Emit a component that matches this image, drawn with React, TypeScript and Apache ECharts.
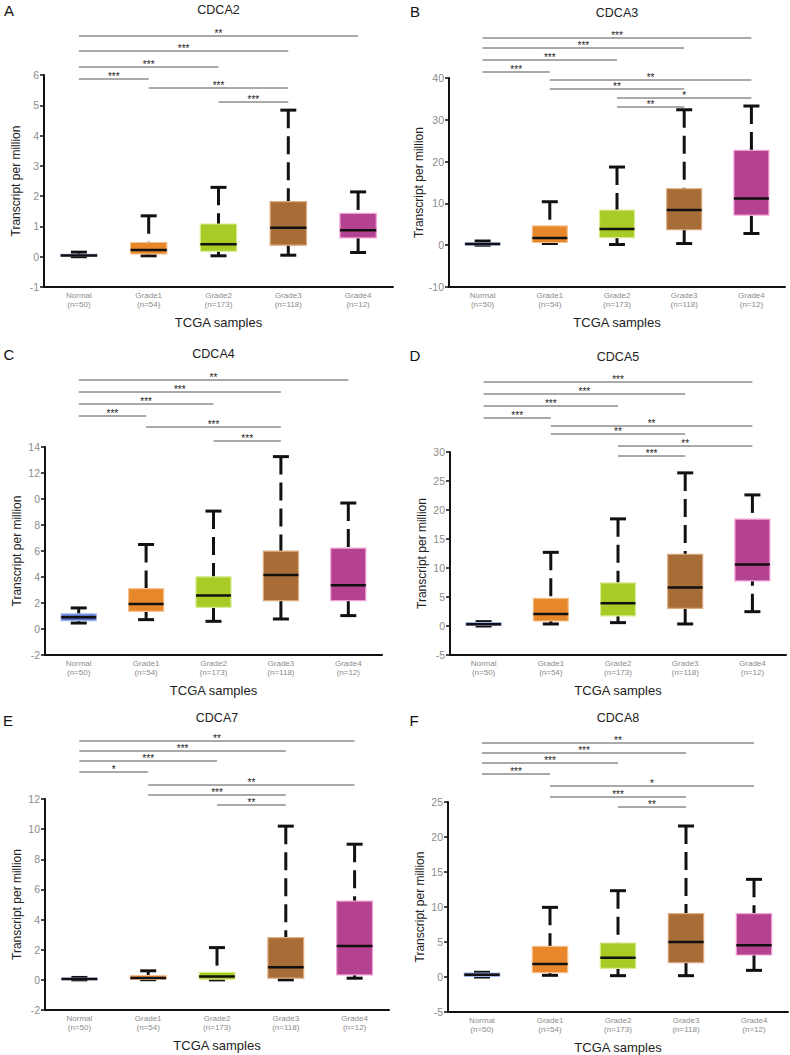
import React, { useEffect, useRef } from "react";
import * as echarts from "echarts";

const categories = ["Normal", "Grade1", "Grade2", "Grade3", "Grade4"];
const sampleCounts = [50, 54, 173, 118, 12];

const boxColors = ["#5272C9", "#E8862A", "#A8CB25", "#A86C36", "#B54191"];
const boxBorders = ["#A3B5EA", "#F6C18E", "#D8EC92", "#DBAA7E", "#F0A2D5"];

// each box: [min, q1, median, q3, max]
const cdca2Boxes = [
  [0.0, 0.02, 0.04, 0.08, 0.15],
  [0.03, 0.09, 0.22, 0.47, 1.35],
  [0.03, 0.18, 0.41, 1.08, 2.29],
  [0.05, 0.38, 0.96, 1.82, 4.84],
  [0.14, 0.62, 0.87, 1.43, 2.14],
];
const cdca3Boxes = [
  [0.0, 0.1, 0.3, 0.55, 1.0],
  [0.4, 0.64, 1.75, 4.6, 10.4],
  [0.16, 1.8, 3.9, 8.4, 18.7],
  [0.4, 3.7, 8.45, 13.5, 32.4],
  [2.8, 7.2, 11.2, 22.7, 33.3],
];
const cdca4Boxes = [
  [0.46, 0.64, 0.9, 1.16, 1.62],
  [0.72, 1.36, 1.93, 3.11, 6.5],
  [0.59, 1.67, 2.57, 4.01, 9.07],
  [0.77, 2.19, 4.16, 5.99, 13.26],
  [1.03, 2.19, 3.37, 6.22, 9.69],
];
const cdca5Boxes = [
  [0.0, 0.1, 0.3, 0.6, 0.75],
  [0.35, 0.86, 2.07, 4.78, 12.7],
  [0.58, 1.73, 3.91, 7.42, 18.47],
  [0.35, 3.05, 6.62, 12.37, 26.4],
  [2.47, 7.77, 10.59, 18.41, 22.6],
];
const cdca7Boxes = [
  [0.0, 0.02, 0.06, 0.12, 0.16],
  [0.01, 0.03, 0.12, 0.28, 0.6],
  [0.0, 0.04, 0.22, 0.49, 2.14],
  [0.0, 0.11, 0.84, 2.8, 10.2],
  [0.11, 0.33, 2.25, 5.23, 9.0],
];
const cdca8Boxes = [
  [0.0, 0.1, 0.33, 0.57, 0.67],
  [0.24, 0.62, 1.86, 4.38, 9.95],
  [0.19, 1.24, 2.76, 4.86, 12.33],
  [0.19, 2.05, 5.0, 9.05, 21.57],
  [0.95, 3.14, 4.52, 9.05, 13.95],
];

// y tick labels as printed
const cdca2Ticks = ["-1", "0", "1", "2", "3", "4", "5", "6"];
const cdca3Ticks = ["-10", "0", "10", "20", "30", "40"];
const cdca4Ticks = ["-2", "0", "2", "4", "6", "8", "0", "12", "14"];
const cdca5Ticks = ["-5", "0", "5", "10", "15", "20", "25", "30"];
const cdca7Ticks = ["-2", "0", "2", "4", "6", "8", "10", "12"];
const cdca8Ticks = ["-5", "0", "5", "10", "15", "20", "25"];

// significance comparisons: [fromIndex, toIndex, label]
const cdca2Sig = [[0, 4, "**"], [0, 3, "***"], [0, 2, "***"], [0, 1, "***"], [1, 3, "***"], [2, 3, "***"]];
const cdca3Sig = [[0, 4, "***"], [0, 3, "***"], [0, 2, "***"], [0, 1, "***"], [1, 4, "**"], [1, 3, "**"], [2, 4, "*"], [2, 3, "**"]];
const cdca4Sig = [[0, 4, "**"], [0, 3, "***"], [0, 2, "***"], [0, 1, "***"], [1, 3, "***"], [2, 3, "***"]];
const cdca5Sig = [[0, 4, "***"], [0, 3, "***"], [0, 2, "***"], [0, 1, "***"], [1, 4, "**"], [1, 3, "**"], [2, 4, "**"], [2, 3, "***"]];
const cdca7Sig = [[0, 4, "**"], [0, 3, "***"], [0, 2, "***"], [0, 1, "*"], [1, 4, "**"], [1, 3, "***"], [2, 3, "**"]];
const cdca8Sig = [[0, 4, "**"], [0, 3, "***"], [0, 2, "***"], [0, 1, "***"], [1, 4, "*"], [1, 3, "***"], [2, 3, "**"]];

const panels = [
  { letter: "A", title: "CDCA2", boxes: cdca2Boxes, ticks: cdca2Ticks, sig: cdca2Sig, min: -1, max: 6, interval: 1 },
  { letter: "B", title: "CDCA3", boxes: cdca3Boxes, ticks: cdca3Ticks, sig: cdca3Sig, min: -10, max: 40, interval: 10 },
  { letter: "C", title: "CDCA4", boxes: cdca4Boxes, ticks: cdca4Ticks, sig: cdca4Sig, min: -2, max: 14, interval: 2 },
  { letter: "D", title: "CDCA5", boxes: cdca5Boxes, ticks: cdca5Ticks, sig: cdca5Sig, min: -5, max: 30, interval: 5 },
  { letter: "E", title: "CDCA7", boxes: cdca7Boxes, ticks: cdca7Ticks, sig: cdca7Sig, min: -2, max: 12, interval: 2 },
  { letter: "F", title: "CDCA8", boxes: cdca8Boxes, ticks: cdca8Ticks, sig: cdca8Sig, min: -5, max: 25, interval: 5 },
];

// layout (pixels)
const layout = [
  { left: 44, top: 75, width: 349, height: 212, titleY: 10, letterX: 9, letterY: 10, sigY: [36, 51, 67, 79, 88, 102] },
  { left: 449, top: 78, width: 336, height: 209, titleY: 13, letterX: 415, letterY: 11, sigY: [38, 48, 60, 72, 80, 89, 98, 107] },
  { left: 45, top: 447, width: 337, height: 208, titleY: 354, letterX: 9, letterY: 354, sigY: [380, 392, 404, 416, 427, 441] },
  { left: 450, top: 452, width: 336, height: 203, titleY: 357, letterX: 415, letterY: 355, sigY: [382, 394, 406, 418, 426, 434, 446, 456] },
  { left: 45, top: 799, width: 344, height: 211, titleY: 718, letterX: 8, letterY: 720, sigY: [741, 751, 761, 772, 785, 795, 805] },
  { left: 448, top: 802, width: 340, height: 210, titleY: 718, letterX: 414, letterY: 720, sigY: [743, 753, 763, 774, 786, 797, 807] },
];

const FONT = "'Liberation Sans', Arial, Helvetica, sans-serif";

function buildOption() {
  const grid: any[] = [];
  const xAxis: any[] = [];
  const yAxis: any[] = [];
  const series: any[] = [];
  const graphic: any[] = [];

  panels.forEach((p, i) => {
    const L = layout[i];
    grid.push({ left: L.left, top: L.top, width: L.width, height: L.height, containLabel: false });
    xAxis.push({
      type: "category",
      gridIndex: i,
      data: categories,
      boundaryGap: true,
      name: "TCGA samples",
      nameLocation: "middle",
      nameGap: 29,
      nameTextStyle: { fontSize: 13, color: "#222", fontFamily: FONT },
      axisLine: { show: true, onZero: false, lineStyle: { color: "#111", width: 2 } },
      axisTick: { show: false },
      splitLine: { show: false },
      axisLabel: {
        interval: 0,
        margin: 4,
        fontSize: 8,
        lineHeight: 9,
        color: "#8c8c8c",
        fontFamily: FONT,
        formatter: (v: string, idx: number) => `${v}\n(n=${sampleCounts[idx]})`,
      },
    });
    yAxis.push({
      type: "value",
      gridIndex: i,
      min: p.min,
      max: p.max,
      interval: p.interval,
      name: "Transcript per million",
      nameLocation: "middle",
      nameGap: 22,
      nameTextStyle: { fontSize: 12, color: "#222", fontFamily: FONT },
      axisLine: { show: true, lineStyle: { color: "#111", width: 2 } },
      axisTick: { show: true, length: 4, inside: false, lineStyle: { color: "#111", width: 1.5 } },
      splitLine: { show: false },
      axisLabel: {
        fontSize: 10.5,
        color: "#8c8c8c",
        margin: 5,
        fontFamily: FONT,
        formatter: (v: number) => p.ticks[Math.round((v - p.min) / p.interval)] ?? String(v),
      },
    });

    series.push({
      type: "custom",
      xAxisIndex: i,
      yAxisIndex: i,
      clip: false,
      encode: { x: 0, y: [1, 2, 3, 4, 5] },
      data: p.boxes.map((b, k) => [k, ...b]),
      renderItem: (params: any, api: any) => {
        const idx = api.value(0);
        const pMin = api.coord([idx, api.value(1)]);
        const pQ1 = api.coord([idx, api.value(2)]);
        const pMed = api.coord([idx, api.value(3)]);
        const pQ3 = api.coord([idx, api.value(4)]);
        const pMax = api.coord([idx, api.value(5)]);
        const cx = pMed[0];
        const w = api.size([1, 0])[0] * 0.52;
        const cap = 8;
        const wStyle = { stroke: "#111", lineWidth: 3, lineDash: [18, 8] };
        const cStyle = { stroke: "#111", lineWidth: 3 };
        return {
          type: "group",
          children: [
            { type: "line", shape: { x1: cx, y1: pMax[1], x2: cx, y2: pQ3[1] }, style: wStyle },
            { type: "line", shape: { x1: cx, y1: pMin[1], x2: cx, y2: pQ1[1] }, style: wStyle },
            { type: "line", shape: { x1: cx - cap, y1: pMax[1], x2: cx + cap, y2: pMax[1] }, style: cStyle },
            { type: "line", shape: { x1: cx - cap, y1: pMin[1], x2: cx + cap, y2: pMin[1] }, style: cStyle },
            {
              type: "rect",
              shape: { x: cx - w / 2, y: pQ3[1], width: w, height: Math.max(pQ1[1] - pQ3[1], 1) },
              style: { fill: boxColors[idx], stroke: boxBorders[idx], lineWidth: 1.2 },
            },
            { type: "line", shape: { x1: cx - w / 2, y1: pMed[1], x2: cx + w / 2, y2: pMed[1] }, style: { stroke: "#111", lineWidth: 2.5 } },
          ],
        };
      },
    });

    series.push({
      type: "custom",
      xAxisIndex: i,
      yAxisIndex: i,
      clip: false,
      silent: true,
      encode: { x: [0, 1], y: 2 },
      data: p.sig.map((s) => [s[0], s[1], p.min]),
      renderItem: (params: any, api: any) => {
        const k = params.dataIndex;
        const a = api.coord([api.value(0), p.min]);
        const b = api.coord([api.value(1), p.min]);
        const y = L.sigY[k];
        return {
          type: "group",
          children: [
            { type: "line", shape: { x1: a[0], y1: y, x2: b[0], y2: y }, style: { stroke: "#555", lineWidth: 1 } },
            {
              type: "text",
              x: (a[0] + b[0]) / 2,
              y: y - 3,
              style: { text: String(p.sig[k][2]), fontSize: 10, fill: "#222", textAlign: "center", textVerticalAlign: "middle", fontFamily: FONT },
            },
          ],
        };
      },
    });

    graphic.push({
      type: "text",
      left: undefined,
      x: L.left + L.width / 2,
      y: L.titleY,
      style: { text: p.title, fontSize: 12.5, fill: "#222", textAlign: "center", textVerticalAlign: "middle", fontFamily: FONT },
    });
    graphic.push({
      type: "text",
      x: L.letterX,
      y: L.letterY,
      style: { text: p.letter, fontSize: 15, fill: "#111", textAlign: "center", textVerticalAlign: "middle", fontFamily: FONT },
    });
  });

  return {
    animation: false,
    backgroundColor: "#ffffff",
    textStyle: { fontFamily: FONT },
    grid,
    xAxis,
    yAxis,
    series,
    graphic,
  };
}

export default function App() {
  const ref = useRef<HTMLDivElement>(null);
  useEffect(() => {
    if (!ref.current) return;
    const chart = echarts.init(ref.current, undefined, { renderer: "svg" });
    chart.setOption(buildOption() as any);
    return () => chart.dispose();
  }, []);
  return (
    <div
      ref={ref}
      style={{ position: "absolute", left: 0, top: 0, width: 790, height: 1055, background: "#fff" }}
    />
  );
}
